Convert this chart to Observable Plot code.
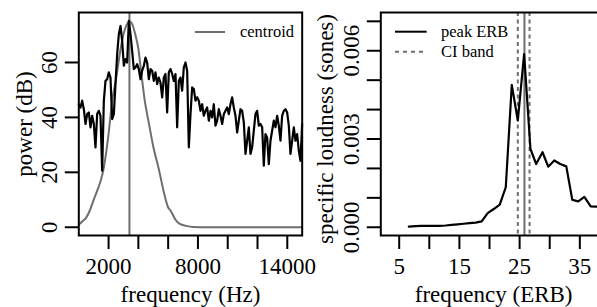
<!DOCTYPE html>
<html><head><meta charset="utf-8">
<script src="https://cdn.jsdelivr.net/npm/d3@7"></script>
<script src="https://cdn.jsdelivr.net/npm/@observablehq/plot@0.6"></script>
<style>
html,body{margin:0;padding:0;background:#fff;overflow:hidden;width:597px;height:307px;}
#left{position:absolute;left:0;top:0;}
#right{position:absolute;left:302px;top:0;}
</style></head><body>
<div id="left"></div><div id="right"></div>
<script>
// ---- Left panel data: spectrum (Hz, dB)
const freqHz = [0,114,226,338,450,562,674,786,897,1009,1121,1233,1345,1457,1569,1681,1793,1904,2016,2128,2240,2352,2464,2576,2688,2800,2912,3024,3136,3248,3360,3471,3583,3695,3807,3919,4031,4143,4255,4367,4479,4590,4702,4814,4926,5038,5150,5262,5374,5486,5598,5709,5821,5933,6045,6157,6269,6381,6493,6605,6717,6828,6940,7052,7164,7276,7388,7500,7612,7724,7836,7947,8059,8171,8283,8395,8507,8619,8731,8843,8955,9066,9178,9290,9402,9514,9626,9738,9850,9962,10074,10185,10297,10409,10521,10633,10745,10857,10969,11081,11193,11304,11416,11528,11640,11752,11864,11976,12088,12200,12312,12423,12535,12647,12759,12871,12983,13095,13207,13319,13431,13542,13654,13766,13878,13990,14102,14214,14326,14438,14550,14661,14773,14885,14997];
const powerDb = [44.8,43.6,46.1,43.0,37.6,41.2,41.8,36.4,40.6,37.6,
29.1,41.2,42.4,40.6,20.6,46.1,53.3,53.9,56.4,54.5,
39.4,41.2,52.1,63.0,70.3,73.3,67.9,58.8,61.2,60.0,
75.2,70.3,64.2,57.6,58.2,59.4,57.6,53.9,57.0,58.8,
61.8,60.0,53.9,57.6,57.0,53.3,56.4,52.1,54.5,52.7,
47.3,54.5,55.8,41.8,56.4,57.6,55.8,53.3,55.8,36.4,
53.3,54.5,49.7,58.2,60.0,57.0,29.1,41.2,50.9,50.3,
46.1,47.3,46.1,42.4,44.8,40.6,42.4,43.6,38.8,42.4,
40.0,44.8,37.0,38.8,43.0,40.6,37.6,41.2,42.4,43.6,
41.2,44.8,47.3,43.6,40.6,34.5,38.8,43.0,42.4,38.2,
26.7,31.5,36.4,26.7,29.1,35.2,41.2,42.4,37.0,37.6,
36.4,22.4,33.9,32.7,23.0,31.5,35.2,38.8,36.4,40.6,
37.0,31.5,40.6,42.4,43.0,41.8,37.0,26.7,31.5,36.4,
31.5,33.9,27.9,24.2,37.6];
// Gray bell curve
const bellHz = [0,250,500,739,1000,1250,1500,1638,2000,2240,2500,2750,3000,3200,3400,3600,3800,4000,4200,4432,4700,5000,5397,5700,6000,6157,6500,6782,7200,7700,8500,10000,12000,15000];
const bellDb = [1.0,2.2,3.5,6.1,10.0,13.5,17.5,20.6,34.0,46.0,54.0,63.0,70.3,73.5,75.0,73.8,70.0,65.0,56.0,46.0,38.0,29.4,20.6,13.0,7.2,6.1,2.7,1.2,0.5,0.1,0,0,0,0];
const centroidHz = 3400;
const leftXTicks = [2000,4000,6000,8000,10000,12000,14000];
const leftXLabels = [2000,8000,14000];
const leftYTicks = [0,20,40,60];

// ---- Right panel data: specific loudness (ERB, sones)
const erb = [6.6,7.7,8.7,9.7,10.7,11.7,12.7,13.7,14.7,15.7,16.7,17.7,18.7,19.7,20.7,21.7,22.7,23.7,24.7,25.75,26.8,27.75,28.8,29.75,30.75,31.75,32.75,33.75,34.75,35.75,36.8,37.8,38.1];
const loudness = [0.00002,0.00004,0.00005,0.00005,0.00005,0.00005,0.00006,0.00008,0.0001,0.00012,0.00014,0.00016,0.0002,0.00048,0.00062,0.00077,0.00136,0.00484,0.00363,0.00589,0.00266,0.00215,0.00255,0.00206,0.00227,0.00215,0.00207,0.00093,0.00088,0.00103,0.00071,0.0007,0.0007];
const peakErb = 25.8;
const ciBand = [24.7, 26.65];
const rightXTicks = [5,10,15,20,25,30,35];
const rightXLabels = [5,15,25,35];
const rightYTicks = [0,0.001,0.002,0.003,0.004,0.005,0.006,0.007];
const rightYLabels = [0,0.003,0.006];

const FONT = "'Liberation Serif','Times New Roman',serif";
const GRAY = "#6e6e6e";
const FS = 23;

const specRows = freqHz.map((f, i) => ({f, p: powerDb[i]}));
const bellRows = bellHz.map((f, i) => ({f, p: bellDb[i]}));
const loudRows = erb.map((e, i) => ({e, s: loudness[i]}));

const style = {fontFamily: FONT, background: "transparent", overflow: "visible", maxWidth: "none"};

const left = Plot.plot({
  width: 301.7, height: 307,
  marginLeft: 78.3, marginRight: 0, marginTop: 12, marginBottom: 72,
  style,
  x: {domain: [0, 15000]},
  y: {domain: [-3.0, 78.2]},
  marks: [
    Plot.line(bellRows, {x: "f", y: "p", stroke: GRAY, strokeWidth: 2, curve: "monotone-x"}),
    Plot.ruleX([centroidHz], {stroke: GRAY, strokeWidth: 2}),
    Plot.line(specRows, {x: "f", y: "p", stroke: "black", strokeWidth: 2.2, strokeLinejoin: "round"}),
    Plot.frame({stroke: "black", strokeWidth: 2}),
    Plot.axisX({ticks: leftXTicks, tickSize: 14, tickPadding: 7.7, tickFormat: d => leftXLabels.includes(d) ? String(d) : "", fontSize: FS, strokeWidth: 2, label: null}),
    Plot.axisY({ticks: leftYTicks, tickSize: 13.5, tickPadding: 8.1, tickRotate: -90, tickFormat: d => String(d), fontSize: FS, strokeWidth: 2, label: null}),
    Plot.text(["frequency (Hz)"], {text: d => d, frameAnchor: "bottom", dy: 66.5, lineAnchor: "bottom", textAnchor: "middle", fontSize: FS}),
    Plot.text(["power (dB)"], {text: d => d, frameAnchor: "left", dx: -46.3, rotate: -90, lineAnchor: "bottom", textAnchor: "middle", fontSize: FS})
  ]
});
document.getElementById("left").appendChild(left);

const right = Plot.plot({
  width: 304, height: 307,
  marginLeft: 78.3, marginRight: 0, marginTop: 12, marginBottom: 72,
  style,
  x: {domain: [1.944, 39.43]},
  y: {domain: [-0.00028, 0.0073]},
  marks: [
    Plot.ruleX(ciBand, {stroke: GRAY, strokeWidth: 2, strokeDasharray: "4,3.5"}),
    Plot.ruleX([peakErb], {stroke: GRAY, strokeWidth: 2}),
    Plot.line(loudRows, {x: "e", y: "s", stroke: "black", strokeWidth: 2.2, strokeLinejoin: "round"}),
    Plot.frame({stroke: "black", strokeWidth: 2}),
    Plot.axisX({ticks: rightXTicks, tickSize: 14, tickPadding: 7.7, tickFormat: d => rightXLabels.includes(d) ? String(d) : "", fontSize: FS, strokeWidth: 2, label: null}),
    Plot.axisY({ticks: rightYTicks, tickSize: 13.5, tickPadding: 8.1, tickRotate: -90, tickFormat: d => rightYLabels.includes(d) ? d.toFixed(3) : "", fontSize: FS, strokeWidth: 2, label: null}),
    Plot.text(["frequency (ERB)"], {text: d => d, frameAnchor: "bottom", dy: 66.5, lineAnchor: "bottom", textAnchor: "middle", fontSize: FS}),
    Plot.text(["specific loudness (sones)"], {text: d => d, frameAnchor: "left", dx: -47.8, dy: 5, rotate: -90, lineAnchor: "bottom", textAnchor: "middle", fontSize: FS})
  ]
});
document.getElementById("right").appendChild(right);

// Legends
const lg = d3.select(left).append("g").attr("font-family", FONT).attr("font-size", 16.5).attr("text-anchor", "start");
lg.append("line").attr("x1", 195).attr("x2", 225).attr("y1", 32).attr("y2", 32).attr("stroke", GRAY).attr("stroke-width", 2);
lg.append("text").attr("x", 240).attr("y", 37).text("centroid");

const rg = d3.select(right).append("g").attr("font-family", FONT).attr("font-size", 16.5).attr("text-anchor", "start");
rg.append("line").attr("x1", 93).attr("x2", 124.7).attr("y1", 31.7).attr("y2", 31.7).attr("stroke", "black").attr("stroke-width", 2);
rg.append("text").attr("x", 139).attr("y", 37).text("peak ERB");
rg.append("line").attr("x1", 93).attr("x2", 124.7).attr("y1", 51.7).attr("y2", 51.7).attr("stroke", GRAY).attr("stroke-width", 2).attr("stroke-dasharray", "4,4");
rg.append("text").attr("x", 139).attr("y", 57.3).text("CI band");
</script>
</body></html>
